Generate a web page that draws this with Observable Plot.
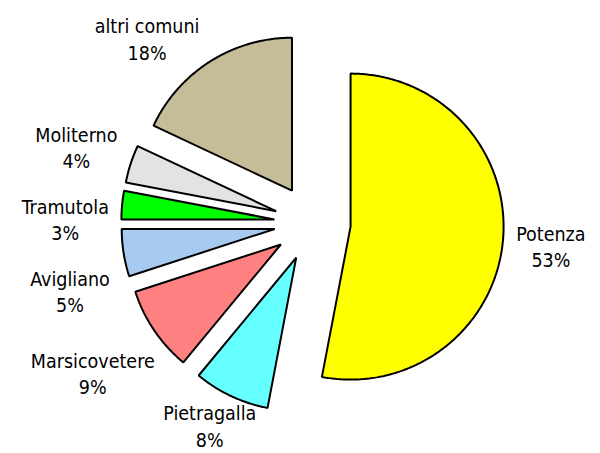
<!DOCTYPE html>
<html>
<head>
<meta charset="utf-8">
<script src="https://cdn.jsdelivr.net/npm/d3@7"></script>
<script src="https://cdn.jsdelivr.net/npm/@observablehq/plot@0.6"></script>
<style>
  html, body { margin: 0; padding: 0; background: #ffffff; }
  #chart svg { display: block; }
</style>
</head>
<body>
<div id="chart"></div>
<script>
// ---- data ----
const comuni = ["Potenza", "Pietragalla", "Marsicovetere", "Avigliano", "Tramutola", "Moliterno", "altri comuni"];
const quote  = [53, 8, 9, 5, 3, 4, 18];            // percent
const colori = ["#FFFF00", "#66FFFF", "#FF8080", "#A6CAF0", "#00FF00", "#E3E3E3", "#C4BD97"];

// ---- layout constants ----
const W = 600, H = 453;
const R = 153;               // pie radius in px
const CX = 312, CY = 222.5;  // pie centre in px
const EXPLODE = 0.25;        // explosion as fraction of radius
const FONT = "'DejaVu Sans Condensed', 'DejaVu Sans', sans-serif";
const FS = 19.5, LH = 1.36;

const pie = d3.pie().sort(null).value(d => d)(quote);

// slice outlines in radius units (y up)
const pts = [];
pie.forEach((p, i) => {
  const mid = (p.startAngle + p.endAngle) / 2;
  const ox = EXPLODE * Math.sin(mid), oy = EXPLODE * Math.cos(mid);
  pts.push({i, x: ox, y: oy});
  const n = Math.max(2, Math.ceil((p.endAngle - p.startAngle) / 0.01));
  for (let k = 0; k <= n; k++) {
    const a = p.startAngle + (p.endAngle - p.startAngle) * k / n;
    pts.push({i, x: ox + Math.sin(a), y: oy + Math.cos(a)});
  }
});

// label layout (pixel space), then converted to radius units
const ctx = document.createElement("canvas").getContext("2d");
ctx.font = `${FS}px ${FONT}`;
const R0 = 203, TOP = 17, BOTTOM = 8, SPACING = 72;
const labels = pie.map((p, i) => {
  const mid = (p.startAngle + p.endAngle) / 2;
  const pct = quote[i] + "%";
  const w = Math.max(ctx.measureText(comuni[i]).width, ctx.measureText(pct).width);
  const h = FS * LH + FS * 0.73;
  const sx = Math.sin(mid), sy = -Math.cos(mid);
  const dist = R0 + Math.abs(sx) * w / 2 + Math.abs(sy) * h / 2;
  return {i, text: comuni[i] + "\n" + pct, w, h, dist, side: sx < 0 ? -1 : 1,
          px: CX + dist * sx, py: CY + dist * sy};
});
// push apart labels on the same side that overlap horizontally
for (const side of [-1, 1]) {
  const ls = labels.filter(l => l.side === side).sort((a, b) => a.py - b.py);
  for (let k = 1; k < ls.length; k++) {
    const a = ls[k - 1], b = ls[k];
    const xOverlap = Math.abs(a.px - b.px) < (a.w + b.w) / 2;
    if (xOverlap && b.py < a.py + SPACING) b.py = a.py + SPACING;
  }
}
// keep labels inside the frame: at the top slide along the label circle,
// at the bottom shift straight up
for (const l of labels) {
  const minY = TOP + l.h / 2, maxY = H - BOTTOM - l.h / 2;
  if (l.py < minY) {
    const dy = minY - CY;
    l.px = CX + l.side * Math.sqrt(Math.max(0, l.dist * l.dist - dy * dy));
    l.py = minY;
  } else if (l.py > maxY) {
    l.py = maxY;
  }
  l.x = (l.px - CX) / R;
  l.y = (CY - l.py) / R;
}

const chart = Plot.plot({
  width: W, height: H,
  margin: 0,
  x: {domain: [-CX / R, (W - CX) / R], axis: null},
  y: {domain: [(CY - H) / R, CY / R], axis: null},
  color: {type: "identity"},
  style: {background: "#ffffff"},
  marks: [
    Plot.line(pts, {
      x: "x", y: "y", z: "i",
      fill: d => colori[d.i],
      stroke: "#000000", strokeWidth: 2,
      strokeLinejoin: "miter",
      curve: "linear-closed"
    }),
    Plot.text(labels, {
      x: "x", y: "y", text: "text",
      fontSize: FS, lineHeight: LH,
      fontFamily: FONT, fill: "#000000",
      textAnchor: "middle", lineAnchor: "middle"
    })
  ]
});
document.getElementById("chart").appendChild(chart);
</script>
</body>
</html>
